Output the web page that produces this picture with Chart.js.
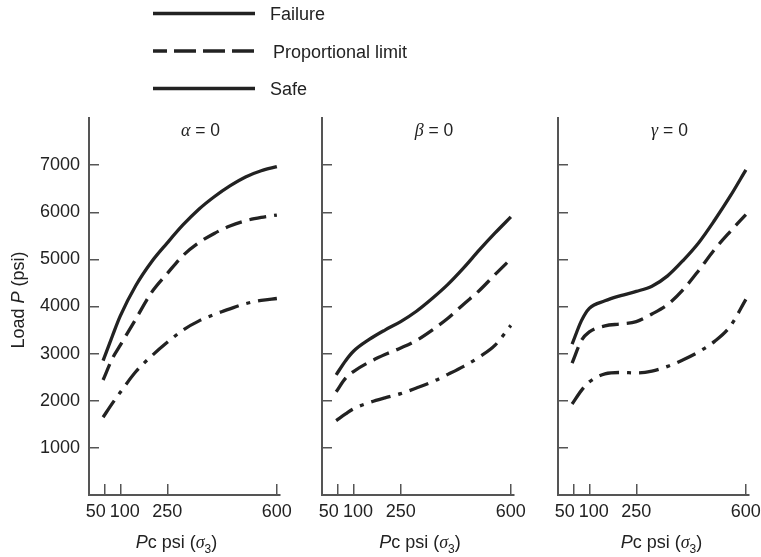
<!DOCTYPE html>
<html>
<head>
<meta charset="utf-8">
<title>Load P vs Pc</title>
<script src="https://cdn.jsdelivr.net/npm/chart.js@4.4.1/dist/chart.umd.min.js"></script>
<style>
  html, body { margin: 0; padding: 0; background: #fff; }
  #wrap { position: relative; width: 761px; height: 557px; }
  #wrap canvas { position: absolute; left: 0; top: 0; }
</style>
</head>
<body>
<div id="wrap">
  <canvas id="alpha" width="761" height="557"></canvas>
  <canvas id="beta" width="761" height="557"></canvas>
  <canvas id="gamma" width="761" height="557"></canvas>
</div>
<script>
const pcValues = [45, 75, 100, 150, 200, 250, 300, 350, 400, 450, 500, 550, 600];

// alpha = 0
const alphaFailure = [2850, 3380, 3800, 4450, 4950, 5350, 5730, 6060, 6330, 6560, 6750, 6880, 6970];
const alphaProportional = [2440, 2900, 3180, 3740, 4300, 4700, 5080, 5350, 5550, 5710, 5820, 5890, 5940];
const alphaSafe = [1650, 1950, 2180, 2620, 2950, 3240, 3500, 3690, 3830, 3950, 4060, 4130, 4170];

// beta = 0
const betaFailure = [2550, 2850, 3050, 3300, 3500, 3680, 3900, 4170, 4470, 4820, 5200, 5560, 5900];
const betaProportional = [2190, 2480, 2620, 2820, 2980, 3120, 3280, 3500, 3750, 4050, 4340, 4680, 5010];
const betaSafe = [1580, 1720, 1830, 1960, 2060, 2150, 2270, 2400, 2560, 2730, 2930, 3180, 3600];

// gamma = 0
const gammaFailure = [3200, 3700, 3960, 4120, 4230, 4320, 4430, 4650, 4980, 5360, 5830, 6340, 6900];
const gammaProportional = [2800, 3280, 3460, 3590, 3630, 3680, 3840, 4040, 4360, 4770, 5210, 5590, 5950];
const gammaSafe = [1930, 2220, 2400, 2570, 2600, 2590, 2630, 2730, 2870, 3040, 3260, 3580, 4150];

const xTickValues = [50, 100, 250, 600];
const yTickValues = [1000, 2000, 3000, 4000, 5000, 6000, 7000];
const seriesNames = ['Failure', 'Proportional limit', 'Safe'];

const ink = '#222';
const axisInk = '#555';
const sans = '"Liberation Sans", Arial, sans-serif';
const serif = '"Liberation Serif", "Times New Roman", serif';
const lineDashes = [[], [17, 8], [20, 8, 4, 8]];

Chart.defaults.font.family = sans;
Chart.defaults.color = ink;

// draws a row of differently styled bits of text, centred on x, on baseline y
function drawPieces(ctx, pieces, x, y) {
    let w = 0;
    pieces.forEach(p => { ctx.font = p.font; w += ctx.measureText(p.text).width; });
    let cx = x - w / 2;
    ctx.textAlign = 'left';
    ctx.textBaseline = 'alphabetic';
    pieces.forEach(p => {
        ctx.font = p.font;
        ctx.fillText(p.text, cx, y + (p.dy || 0));
        cx += ctx.measureText(p.text).width;
    });
}

const panelText = {
    id: 'panelText',
    afterDraw(chart, args, opts) {
        const ctx = chart.ctx;
        const area = chart.chartArea;
        const mid = (area.left + area.right) / 2;
        ctx.save();
        ctx.fillStyle = ink;
        drawPieces(ctx, [
            {text: opts.greek, font: 'italic 18px ' + serif},
            {text: ' = 0', font: '17.5px ' + sans}
        ], mid + 16, 136);
        drawPieces(ctx, [
            {text: 'P', font: 'italic 18px ' + sans},
            {text: 'c psi (', font: '18px ' + sans},
            {text: 'σ', font: 'italic 18px ' + serif},
            {text: '3', font: '12px ' + sans, dy: 5},
            {text: ')', font: '18px ' + sans}
        ], mid + opts.labelShift, 548);
        if (opts.yTitle) {
            ctx.translate(24, 300);
            ctx.rotate(-Math.PI / 2);
            drawPieces(ctx, [
                {text: 'Load ', font: '18px ' + sans},
                {text: 'P', font: 'italic 18px ' + sans},
                {text: ' (psi)', font: '18px ' + sans}
            ], 0, 0);
        }
        ctx.restore();
    }
};

// legend stacked above the first panel
const stackedLegend = {
    id: 'stackedLegend',
    afterDraw(chart) {
        const ctx = chart.ctx;
        const rows = [13.5, 51, 88.5];
        const dashes = [[], [22, 7], []];
        ctx.save();
        chart.data.datasets.forEach((ds, i) => {
            ctx.beginPath();
            ctx.setLineDash(dashes[i]);
            ctx.lineDashOffset = 8;
            ctx.lineWidth = 3.5;
            ctx.strokeStyle = ink;
            ctx.moveTo(153, rows[i]);
            ctx.lineTo(255, rows[i]);
            ctx.stroke();
            ctx.setLineDash([]);
            ctx.font = '18px ' + sans;
            ctx.fillStyle = ink;
            ctx.textAlign = 'left';
            ctx.textBaseline = 'middle';
            ctx.fillText(ds.label, i === 1 ? 273 : 270, rows[i] + 2);
        });
        ctx.restore();
    }
};

function buildPanel(id, greek, series, box, labelShift, first) {
    const yAxisW = 60;
    return new Chart(document.getElementById(id), {
        type: 'line',
        data: {
            datasets: series.map((vals, i) => ({
                label: seriesNames[i],
                data: pcValues.map((x, j) => ({x: x, y: vals[j]})),
                borderColor: ink,
                borderWidth: 3.3,
                borderDash: lineDashes[i],
                borderCapStyle: 'butt',
                pointRadius: 0,
                cubicInterpolationMode: 'monotone',
                fill: false
            }))
        },
        options: {
            responsive: false,
            animation: false,
            events: [],
            layout: {
                autoPadding: false,
                padding: {left: box[0] - yAxisW, right: 761 - box[1], top: 118, bottom: 0}
            },
            plugins: {
                legend: {display: false},
                tooltip: {enabled: false},
                panelText: {greek: greek, labelShift: labelShift, yTitle: first}
            },
            scales: {
                x: {
                    type: 'linear',
                    min: 0,
                    max: 610,
                    afterBuildTicks: s => { s.ticks = xTickValues.map(v => ({value: v})); },
                    afterFit: s => { s.height = 62; s.paddingLeft = 0; s.paddingRight = 0; },
                    ticks: {
                        autoSkip: false,
                        maxRotation: 0,
                        padding: 17,
                        color: ink,
                        font: {size: 18},
                        callback: v => v === 50 ? '50\u2003' : (v === 100 ? '\u2002100' : String(v))
                    },
                    grid: {drawOnChartArea: false, drawTicks: true, tickLength: -11, color: axisInk, lineWidth: 1.5},
                    border: {display: true, color: axisInk, width: 2}
                },
                y: {
                    min: 0,
                    max: 8000,
                    afterBuildTicks: s => { s.ticks = yTickValues.map(v => ({value: v})); },
                    afterFit: s => { s.width = yAxisW; s.paddingTop = 0; s.paddingBottom = 0; },
                    ticks: {
                        display: first,
                        padding: 19,
                        color: ink,
                        font: {size: 18},
                        callback: v => String(v)
                    },
                    grid: {drawOnChartArea: false, drawTicks: true, tickLength: -10, color: axisInk, lineWidth: 1.5},
                    border: {display: true, color: axisInk, width: 2}
                }
            }
        },
        plugins: first ? [panelText, stackedLegend] : [panelText]
    });
}

buildPanel('alpha', 'α', [alphaFailure, alphaProportional, alphaSafe], [89, 280], -8, true);
buildPanel('beta', 'β', [betaFailure, betaProportional, betaSafe], [322, 514], 2, false);
buildPanel('gamma', 'γ', [gammaFailure, gammaProportional, gammaSafe], [558, 749], 8, false);
</script>
</body>
</html>
